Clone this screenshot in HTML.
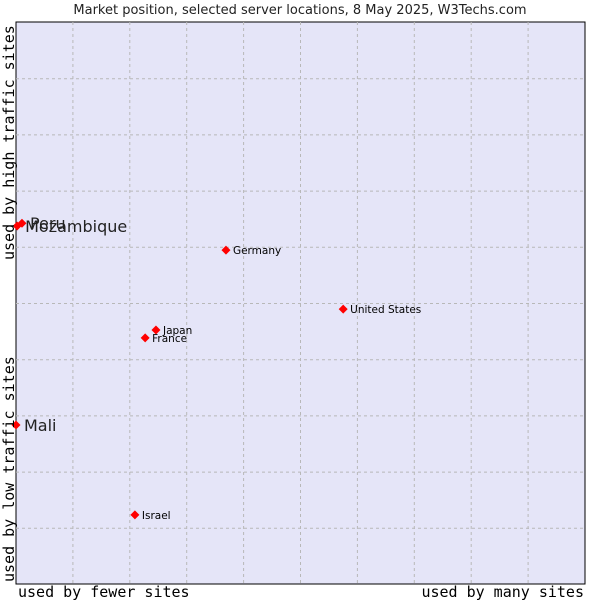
<!DOCTYPE html>
<html><head><meta charset="utf-8"><style>
body{margin:0;background:#fff;}
svg text{font-family:"DejaVu Sans","Liberation Sans",sans-serif;}
.mono{font-family:"DejaVu Sans Mono","Liberation Mono",monospace !important;}
</style></head><body>
<svg id="chart" width="600" height="600" xmlns="http://www.w3.org/2000/svg">
<text x="300" y="14" text-anchor="middle" font-size="13" fill="#222">Market position, selected server locations, 8 May 2025, W3Techs.com</text>
<rect x="16" y="22" width="569" height="562" fill="#e5e5f8" stroke="#000" stroke-width="1"/>
<g id="grid"></g>
<g id="points"></g>
<text class="mono" x="18" y="597" font-size="15" fill="#000">used by fewer sites</text>
<text class="mono" x="584" y="597" font-size="15" text-anchor="end" fill="#000">used by many sites</text>
<text class="mono" transform="translate(14,582) rotate(-90)" font-size="15" fill="#000">used by low traffic sites</text>
<text class="mono" transform="translate(14,260) rotate(-90)" font-size="15" fill="#000">used by high traffic sites</text>
</svg>
<script>
const names=["Peru","Mozambique","Germany","United States","Japan","France","Mali","Israel"];
const xs=[1.05,0.2,36.9,57.5,24.6,22.7,0,20.9];
const ys=[64.2,63.7,59.4,48.9,45.2,43.8,28.3,12.3];
const big=[true,true,false,false,false,false,true,false];
const NS="http://www.w3.org/2000/svg";
const L=16,R=585,T=22,B=584;
const sx=v=>L+v/100*(R-L);
const sy=v=>B-v/100*(B-T);
const grid=document.getElementById('grid');
for(let i=1;i<10;i++){
  const gx=L+i*(R-L)/10, gy=T+i*(B-T)/10+0.5;
  const v=document.createElementNS(NS,'line');
  
  
  v.setAttribute('x1',gx);v.setAttribute('x2',gx);v.setAttribute('y1',T);v.setAttribute('y2',B);
  v.setAttribute('stroke','#b8b8b8');v.setAttribute('stroke-dasharray','3,3');
  grid.appendChild(v);
  const h=document.createElementNS(NS,'line');
  
  
  h.setAttribute('x1',L);h.setAttribute('x2',R);h.setAttribute('y1',gy);h.setAttribute('y2',gy);
  h.setAttribute('stroke','#b8b8b8');h.setAttribute('stroke-dasharray','3,3');
  grid.appendChild(h);
}
const pts=document.getElementById('points');
names.forEach((n,i)=>{
  const x=sx(xs[i]),y=sy(ys[i]);
  const d=document.createElementNS(NS,'polygon');
  
  
  d.setAttribute('points',`${x},${y-4.5} ${x+4.5},${y} ${x},${y+4.5} ${x-4.5},${y}`);
  d.setAttribute('fill','#f00');
  pts.appendChild(d);
  const t=document.createElementNS(NS,'text');
  
  
  t.setAttribute('x',x+(big[i]?8:7));
  t.setAttribute('y',y+(big[i]?6:4));
  t.setAttribute('font-size',big[i]?16:10.5);
  t.setAttribute('fill',big[i]?'#222':'#000');
  t.textContent=n;
  pts.appendChild(t);
});
</script>
</body></html>
